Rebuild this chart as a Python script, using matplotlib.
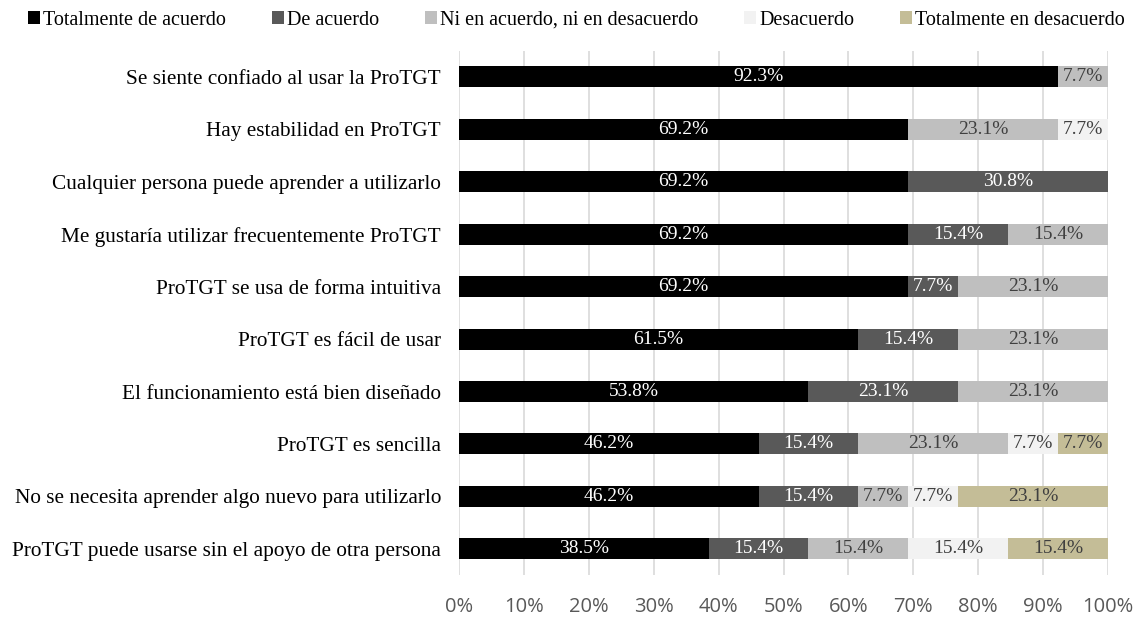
"""Percepción de ProTGT — barras apiladas al 100%."""

import numpy as np
import matplotlib.pyplot as plt
from matplotlib.patches import Patch

# ------------------------------
# Data (top to bottom)
# ------------------------------

items = [
    "Se siente confiado al usar la ProTGT",
    "Hay estabilidad en ProTGT",
    "Cualquier persona puede aprender a utilizarlo",
    "Me gustaría utilizar frecuentemente ProTGT",
    "ProTGT se usa de forma intuitiva",
    "ProTGT es fácil de usar",
    "El funcionamiento está bien diseñado",
    "ProTGT es sencilla",
    "No se necesita aprender algo nuevo para utilizarlo",
    "ProTGT puede usarse sin el apoyo de otra persona",
]

categories = [
    "Totalmente de acuerdo",
    "De acuerdo",
    "Ni en acuerdo, ni en desacuerdo",
    "Desacuerdo",
    "Totalmente en desacuerdo",
]

tot_acuerdo = [92.3, 69.2, 69.2, 69.2, 69.2, 61.5, 53.8, 46.2, 46.2, 38.5]
de_acuerdo = [0, 0, 30.8, 15.4, 7.7, 15.4, 23.1, 15.4, 15.4, 15.4]
neutral = [7.7, 23.1, 0, 15.4, 23.1, 23.1, 23.1, 23.1, 7.7, 15.4]
desacuerdo = [0, 7.7, 0, 0, 0, 0, 0, 7.7, 7.7, 15.4]
tot_desacuerdo = [0, 0, 0, 0, 0, 0, 0, 7.7, 23.1, 15.4]

colors = ["#000000", "#595959", "#bfbfbf", "#f2f2f2", "#c4bd97"]
label_colors = ["white", "white", "#404040", "#404040", "#404040"]

# ------------------------------
# Plot
# ------------------------------

plt.rcParams["font.family"] = ["Liberation Serif", "DejaVu Serif"]

series = np.array([tot_acuerdo, de_acuerdo, neutral, desacuerdo, tot_desacuerdo])
shares = series / series.sum(axis=0) * 100

fig = plt.figure(figsize=(11.41, 6.19), dpi=100)
ax = fig.add_axes([0.4023, 0.071, 0.5688, 0.847])

y = np.arange(len(items))[::-1]
left = np.zeros(len(items))
for s, raw, col, lc in zip(shares, series, colors, label_colors):
    ax.barh(y, s, left=left, height=0.4, color=col, zorder=3)
    for yi, li, si, ri in zip(y, left, s, raw):
        if ri > 0:
            ax.text(li + si / 2, yi, f"{ri:.1f}%", ha="center", va="center",
                    color=lc, fontsize=14, zorder=4)
    left += s

ax.set_xlim(0, 100)
ax.set_ylim(-0.5, len(items) - 0.5)
ax.set_yticks(y)
ax.set_yticklabels(items, fontsize=15.3)
ax.set_xticks(np.arange(0, 101, 10))
ax.set_xticklabels([f"{t}%" for t in range(0, 101, 10)], fontsize=14.5,
                   color="#595959", family="Open Sans")
ax.tick_params(axis="y", length=0, pad=13)
ax.tick_params(axis="x", length=0, pad=16)
ax.grid(axis="x", color="#d9d9d9", linewidth=1.2, zorder=0)
for sp in ax.spines.values():
    sp.set_visible(False)

handles = [Patch(facecolor=c, edgecolor="none") for c in colors]
fig.legend(handles, categories, loc="upper center", bbox_to_anchor=(0.505, 1.012),
           ncol=5, frameon=False, fontsize=14.5, handlelength=0.6,
           handleheight=0.6, handletextpad=0.15, columnspacing=2.28)

fig.savefig("out.png", dpi=100)
